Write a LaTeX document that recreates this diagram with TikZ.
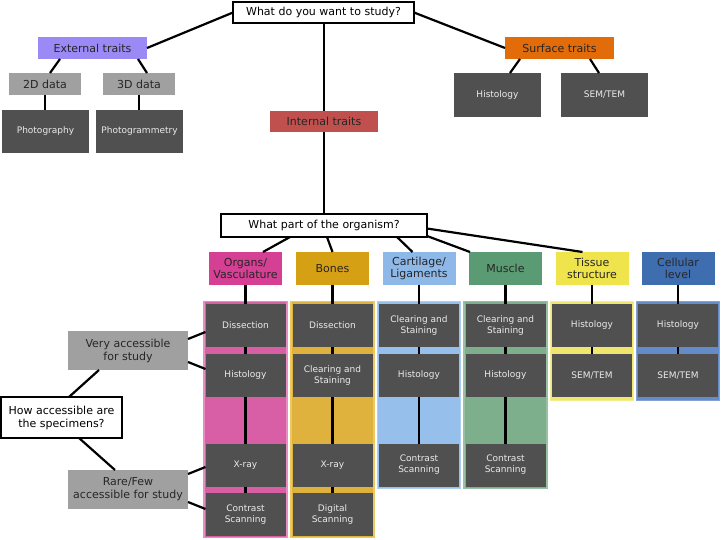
\documentclass[tikz,border=0pt]{standalone}
\usepackage{fontspec}
\setmainfont{DejaVu Sans}
\definecolor{extc}{RGB}{155,137,245}
\definecolor{grayc}{RGB}{160,160,160}
\definecolor{darkc}{RGB}{80,80,80}
\definecolor{surfc}{RGB}{226,108,10}
\definecolor{intc}{RGB}{192,80,77}
\definecolor{orgL}{RGB}{214,64,148}\definecolor{orgC}{RGB}{216,95,165}\definecolor{orgB}{RGB}{232,140,196}
\definecolor{bonL}{RGB}{214,160,20}\definecolor{bonC}{RGB}{222,178,60}\definecolor{bonB}{RGB}{236,200,100}
\definecolor{carL}{RGB}{141,184,232}\definecolor{carC}{RGB}{150,192,235}\definecolor{carB}{RGB}{172,206,240}
\definecolor{musL}{RGB}{90,155,115}\definecolor{musC}{RGB}{125,175,140}\definecolor{musB}{RGB}{152,192,162}
\definecolor{tisL}{RGB}{240,228,76}\definecolor{tisC}{RGB}{240,230,110}\definecolor{tisB}{RGB}{245,238,140}
\definecolor{celL}{RGB}{63,110,176}\definecolor{celC}{RGB}{100,140,200}\definecolor{celB}{RGB}{132,160,212}
\tikzset{
  base/.style={inner sep=0pt, outer sep=0pt, align=center, anchor=center},
  question/.style={base, draw=black, line width=2.2pt, fill=white, font=\fontsize{11}{13}\selectfont},
  trait/.style={base, minimum width=109pt, minimum height=22pt, font=\fontsize{11}{13}\selectfont, text=black!85},
  graybox/.style={base, fill=grayc, font=\fontsize{11}{13}\selectfont, text=black!85},
  darkbox/.style={base, fill=darkc, text=white!92!black, font=\fontsize{9}{11}\selectfont},
  method/.style={darkbox, minimum width=80pt, minimum height=43pt},
  catbox/.style={base, minimum width=73pt, minimum height=33pt, font=\fontsize{11}{12.5}\selectfont, text=black!85},
  column/.style={base, line width=1.5pt, minimum width=83pt},
  link/.style={draw=black, line width=2.2pt},
}
\begin{document}
\begin{tikzpicture}[x=1pt,y=-1pt]
\useasboundingbox (0,0) rectangle (721,540);
% top level
\node[question, minimum width=181pt, minimum height=21pt] (top) at (323.5,12.5) {What do you want to study?};
\node[trait, fill=extc] (ext) at (92.5,48) {External traits};
\node[trait, fill=surfc] (surf) at (559.5,48) {Surface traits};
\node[trait, fill=intc, minimum width=108pt, minimum height=21pt] (int) at (324,121.5) {Internal traits};
\node[graybox, minimum width=72pt, minimum height=22pt] (d2) at (45,84) {2D data};
\node[graybox, minimum width=72pt, minimum height=22pt] (d3) at (139,84) {3D data};
\node[darkbox, minimum width=87pt, minimum height=43pt] (photo) at (45.5,131.5) {Photography};
\node[darkbox, minimum width=87pt, minimum height=43pt] (photog) at (139.5,131.5) {Photogrammetry};
\node[darkbox, minimum width=87pt, minimum height=44pt] (shist) at (497.5,95) {Histology};
\node[darkbox, minimum width=87pt, minimum height=44pt] (ssem) at (604.5,95) {SEM/TEM};
\node[question, minimum width=206pt, minimum height=23pt] (part) at (324,225.5) {What part of the organism?};
% categories
\node[catbox, fill=orgL] (org) at (245.5,268.5) {Organs/\\Vasculature};
\node[catbox, fill=bonL] (bon) at (332.5,268.5) {Bones};
\node[catbox, fill=carL] (car) at (419,268.5) {Cartilage/\\Ligaments};
\node[catbox, fill=musL] (mus) at (505.5,268.5) {Muscle};
\node[catbox, fill=tisL] (tis) at (592,268.5) {Tissue\\structure};
\node[catbox, fill=celL] (cel) at (678,268.5) {Cellular\\level};
% columns
\node[column, fill=orgC, draw=orgB, minimum height=236pt] (colO) at (245.5,419.5) {};
\node[column, fill=bonC, draw=bonB, minimum height=236pt] (colB) at (332.5,419.5) {};
\node[column, fill=carC, draw=carB, minimum height=187pt] (colC) at (419,395) {};
\node[column, fill=musC, draw=musB, minimum height=187pt] (colM) at (505.5,395) {};
\node[column, fill=tisC, draw=tisB, minimum height=99pt] (colT) at (592,351) {};
\node[column, fill=celC, draw=celB, minimum height=99pt] (colL) at (678,351) {};
% methods
\node[method] (o1) at (245.5,325.5) {Dissection};
\node[method] (o2) at (245.5,375.5) {Histology};
\node[method] (o3) at (245.5,465) {X-ray};
\node[method] (o4) at (245.5,514.5) {Contrast\\Scanning};
\node[method] (b1) at (332.5,325.5) {Dissection};
\node[method] (b2) at (332.5,375.5) {Clearing and\\Staining};
\node[method] (b3) at (332.5,465) {X-ray};
\node[method] (b4) at (332.5,514.5) {Digital\\Scanning};
\node[method] (c1) at (419,325.5) {Clearing and\\Staining};
\node[method] (c2) at (419,375.5) {Histology};
\node[method] (c3) at (419,465) {Contrast\\Scanning};
\node[method] (m1) at (505.5,325.5) {Clearing and\\Staining};
\node[method] (m2) at (505.5,375.5) {Histology};
\node[method] (m3) at (505.5,465) {Contrast\\Scanning};
\node[method] (t1) at (592,325.5) {Histology};
\node[method] (t2) at (592,375.5) {SEM/TEM};
\node[method] (l1) at (678,325.5) {Histology};
\node[method] (l2) at (678,375.5) {SEM/TEM};
% accessibility
\node[graybox, minimum width=120pt, minimum height=39pt] (very) at (128,350.5) {Very accessible\\for study};
\node[question, minimum width=121pt, minimum height=41pt] (how) at (61.5,417.5) {How accessible are\\the specimens?};
\node[graybox, minimum width=120pt, minimum height=39pt] (rare) at (128,489.5) {Rare/Few\\accessible for study};
% connectors
\draw[link] (top.west) -- (ext.east);
\draw[link] (top.east) -- (surf.west);
\draw[link] (int.north |- top.south) -- (int.north);
\draw[link] (int.south) -- (part.north);
\draw[link] ([xshift=22pt]ext.south west) -- ([xshift=41pt]d2.north west);
\draw[link] ([xshift=-9pt]ext.south east) -- ([xshift=-28pt]d3.north east);
\draw[link] (d2.south) -- (d2.south |- photo.north);
\draw[link] (d3.south) -- (d3.south |- photog.north);
\draw[link] ([xshift=15pt]surf.south west) -- ([xshift=56pt]shist.north west);
\draw[link] ([xshift=-24pt]surf.south east) -- ([xshift=38pt]ssem.north west);
\draw[link] ([xshift=69pt]part.south west) -- ([xshift=54pt]org.north west);
\draw[link] ([xshift=106pt]part.south west) -- (bon.north);
\draw[link] ([xshift=176pt]part.south west) -- ([xshift=30pt]car.north west);
\draw[link] ([yshift=1pt]part.south east) -- ([xshift=1pt]mus.north west);
\draw[link] ([yshift=-3pt]part.east) -- ([xshift=27pt]tis.north west);
\foreach \c/\m in {org/o1,bon/b1,car/c1,mus/m1,tis/t1,cel/l1}
  \draw[link] (\c.south) -- (\m.north);
\foreach \a/\b in {o1/o2,o2/o3,o3/o4,b1/b2,b2/b3,b3/b4,c1/c2,c2/c3,m1/m2,m2/m3,t1/t2,l1/l2}
  \draw[link] (\a.south) -- (\b.north);
\draw[link] ([xshift=68pt]how.north west) -- ([xshift=31pt]very.south west);
\draw[link] ([xshift=78pt]how.south west) -- ([xshift=47pt]rare.north west);
\draw[link] ([yshift=11.5pt]very.east) -- ([yshift=-6.5pt]o1.west);
\draw[link] ([yshift=-11.5pt]very.east) -- ([yshift=6.5pt]o2.west);
\draw[link] ([yshift=15.5pt]rare.east) -- ([yshift=-2pt]o3.west);
\draw[link] ([yshift=-12.5pt]rare.east) -- ([yshift=5.5pt]o4.west);
\end{tikzpicture}
\end{document}
